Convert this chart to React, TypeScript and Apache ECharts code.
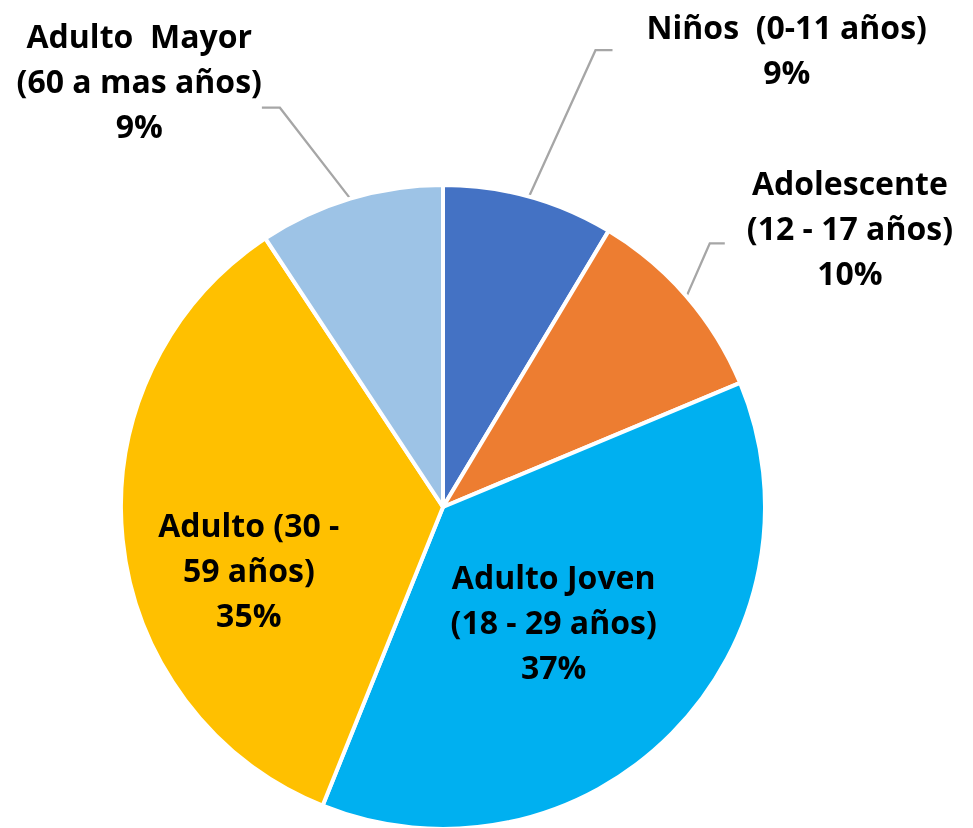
import React, { useEffect, useRef } from 'react';
import * as echarts from 'echarts';

const categories = [
  'Niños  (0-11 años)',
  'Adolescente\n(12 - 17 años)',
  'Adulto Joven\n(18 - 29 años)',
  'Adulto (30 -\n59 años)',
  'Adulto  Mayor\n(60 a mas años)',
];
const values = [8.6, 10.1, 37.4, 34.6, 9.3];
const colors = ['#4472C4', '#ED7D31', '#00B0F0', '#FFC000', '#9DC3E6'];
const insideLabel = [false, false, true, true, false];

// layout tuning (not data)
const lineLength = [152, 81, 0, 0, 95];
const lineLength2 = [43, 15, 0, 0, 18];
const labelDistance = [34, 5, 0, 0, 0];
const labelShift: [number, number][] = [
  [0, -1],
  [-21, -16],
  [-6, -1],
  [-31, 46],
  [-43, -27],
];
// horizontal nudge of the leader line's bend and end points
const lineNudge: [number, number][] = [
  [26, 0],
  [-38, -38],
  [0, 0],
  [0, 0],
  [-43, -43],
];

export default function App() {
  const ref = useRef<HTMLDivElement>(null);
  useEffect(() => {
    if (!ref.current) return;
    const chart = echarts.init(ref.current, null, { renderer: 'svg' });
    const textStyle = {
      fontFamily: 'Open Sans',
      fontWeight: 'bold',
      fontSize: 32,
      lineHeight: 45,
      color: '#000',
    };
    const data = categories.map((name, i) => ({
      name,
      value: values[i],
      itemStyle: { color: colors[i] },
      label: {
        position: insideLabel[i] ? 'inside' : 'outside',
        distanceToLabelLine: labelDistance[i],
      },
      labelLine: {
        show: !insideLabel[i],
        length: lineLength[i],
        length2: lineLength2[i],
      },
    }));
    chart.setOption({
      animation: false,
      series: [
        {
          type: 'pie',
          center: [443, 507],
          radius: 322,
          startAngle: 90,
          clockwise: true,
          avoidLabelOverlap: false,
          itemStyle: { borderColor: '#ffffff', borderWidth: 4 },
          label: {
            show: true,
            ...textStyle,
            bleedMargin: 0,
            formatter: (p: any) => {
              const lines = String(p.name).split('\n');
              lines.push(Math.round(p.percent) + '%');
              return lines.map((l) => `{c|${l}}`).join('\n');
            },
            rich: { c: { ...textStyle, align: 'center' } },
          },
          labelLine: {
            lineStyle: { color: '#A6A6A6', width: 2.3 },
          },
          labelLayout: (p: any) => {
            const i = p.dataIndex;
            const out: any = { dx: labelShift[i][0], dy: labelShift[i][1] };
            const pts = p.labelLinePoints;
            if (!insideLabel[i] && pts && pts.length === 3) {
              out.labelLinePoints = [
                [pts[0][0], pts[0][1]],
                [pts[1][0] + lineNudge[i][0], pts[1][1]],
                [pts[2][0] + lineNudge[i][1], pts[2][1]],
              ];
            }
            return out;
          },
          emphasis: { disabled: true },
          data,
        },
      ],
    });
    return () => chart.dispose();
  }, []);
  return (
    <div
      ref={ref}
      style={{ position: 'fixed', left: 0, top: 0, width: 973, height: 828 }}
    />
  );
}
